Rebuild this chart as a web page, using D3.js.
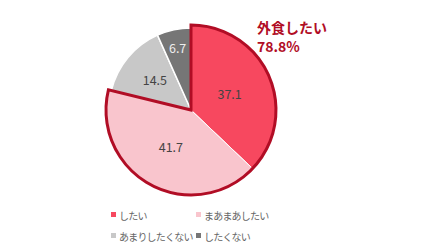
<!DOCTYPE html>
<html><head><meta charset="utf-8">
<script src="https://cdn.jsdelivr.net/npm/d3@7"></script>
<style>body{margin:0;background:#fff;}svg{display:block;font-family:"Noto Sans CJK JP","Noto Sans",sans-serif;}</style>
</head><body>
<svg id="c" width="430" height="246"></svg>
<script>
const categories = ["したい", "まあまあしたい", "あまりしたくない", "したくない"];
const values = [37.1, 41.7, 14.5, 6.7];
const colors = ["#f7485f", "#f9c5cd", "#c8c8c8", "#767676"];
const highlighted = [true, true, false, false];
const labelColors = ["#444", "#444", "#444", "#eee"];
const annotation = ["外食したい", "78.8%"];

const svg = d3.select("#c");
const cx = 191, cy = 110;
const data = categories.map((c, i) => ({c, v: values[i], i}));
const pie = d3.pie().sort(null).value(d => d.v);
const arcs = pie(data);
const arcHi = d3.arc().innerRadius(0).outerRadius(85);
const arcLo = d3.arc().innerRadius(0).outerRadius(82);
const g = svg.append("g").attr("transform", `translate(${cx},${cy})`);

g.selectAll("path.lo").data(arcs.filter(a => !highlighted[a.data.i])).join("path")
  .attr("d", arcLo).attr("fill", d => colors[d.data.i])
  .attr("stroke", "#fff").attr("stroke-width", 1.5);
g.selectAll("path.hi").data(arcs.filter(a => highlighted[a.data.i])).join("path")
  .attr("d", arcHi).attr("fill", d => colors[d.data.i])
  .attr("stroke", "#fff").attr("stroke-width", 1);
const hiArcs = arcs.filter(a => highlighted[a.data.i]);
const groupArc = {startAngle: d3.min(hiArcs, a => a.startAngle), endAngle: d3.max(hiArcs, a => a.endAngle)};
g.append("path").attr("d", arcHi(groupArc)).attr("fill", "none")
  .attr("stroke", "#b10d25").attr("stroke-width", 3).attr("stroke-linejoin", "miter");

const labelR = [42, 42, 47, 64];
g.selectAll("text.v").data(arcs).join("text")
  .attr("transform", d => {
    const r = labelR[d.data.i];
    const a = (d.startAngle + d.endAngle) / 2;
    return `translate(${Math.sin(a) * r},${-Math.cos(a) * r})`;
  })
  .attr("text-anchor", "middle").attr("dominant-baseline", "central")
  .attr("font-size", 12.5).attr("fill", d => labelColors[d.data.i])
  .text(d => d.data.v.toFixed(1));

svg.append("text").attr("x", 257).attr("y", 33).attr("font-size", 14).attr("font-weight", "bold")
  .attr("fill", "#b10d25").text(annotation[0]);
svg.append("text").attr("x", 257).attr("y", 52).attr("font-size", 14).attr("font-weight", "bold")
  .attr("fill", "#b10d25").text(annotation[1]);

const legPos = [[111, 215], [196, 215], [111, 236], [196, 236]];
const leg = svg.selectAll("g.l").data(categories).join("g")
  .attr("transform", (d, i) => `translate(${legPos[i][0]},${legPos[i][1]})`);
leg.append("rect").attr("x", 0).attr("y", -3).attr("width", 5).attr("height", 5)
  .attr("fill", (d, i) => colors[i]);
leg.append("text").attr("x", 8).attr("y", 0).attr("dominant-baseline", "central")
  .attr("font-size", 10).attr("letter-spacing", -0.8).attr("fill", "#666").text(d => d);
</script>
</body></html>
